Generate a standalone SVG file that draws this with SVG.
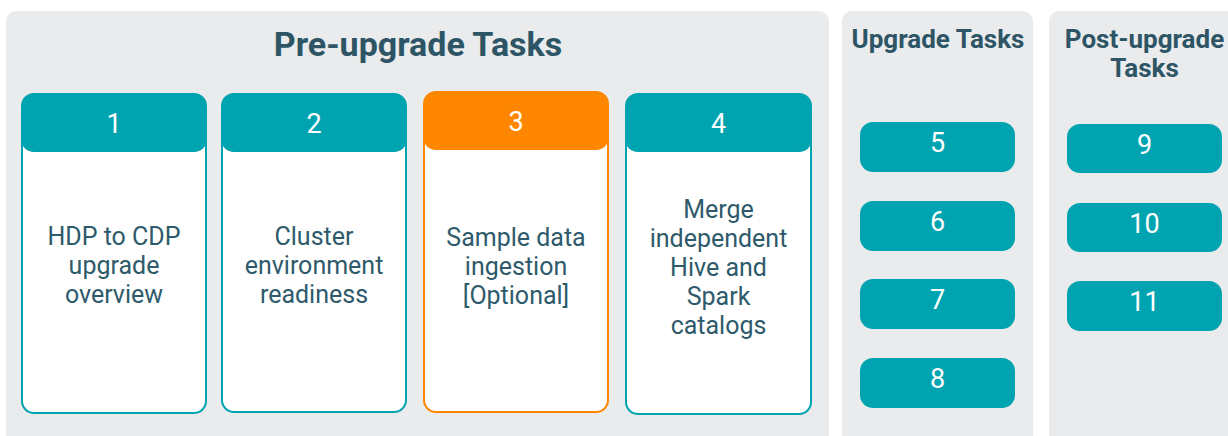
<svg xmlns="http://www.w3.org/2000/svg" width="1228" height="436" viewBox="0 0 1228 436">
  <style>
    .panel { fill: #e9ebed; }
    .title { font-family: Roboto, "Liberation Sans", sans-serif; font-weight: bold; fill: #2d5566; text-anchor: middle; }
    .body { fill: #ffffff; stroke-width: 2; }
    .teal { fill: #00a4b1; }
    .orange { fill: #ff8700; }
    .tealS { stroke: #00a4b1; }
    .orangeS { stroke: #ff8700; }
    .num { font-family: Roboto, "Liberation Sans", sans-serif; font-size: 27px; fill: #ffffff; text-anchor: middle; }
    .txt { font-family: Roboto, "Liberation Sans", sans-serif; font-size: 25px; fill: #2e5a6b; text-anchor: middle; }
  </style>

  <g id="panel-pre">
    <path class="panel" d="M6,436 V21 A10,10 0 0 1 16,11 H819 A10,10 0 0 1 829,21 V436 Z"/>
    <text class="title" x="418" y="56" font-size="34">Pre-upgrade Tasks</text>
  </g>
  <g id="panel-upgrade">
    <path class="panel" d="M842,436 V21 A10,10 0 0 1 852,11 H1023 A10,10 0 0 1 1033,21 V436 Z"/>
    <text class="title" x="938" y="48" font-size="26">Upgrade Tasks</text>
  </g>
  <g id="panel-post">
    <path class="panel" d="M1049,436 V21 A10,10 0 0 1 1059,11 H1238 V436 Z"/>
    <text class="title" x="1144.5" y="48" font-size="26">Post-upgrade</text>
    <text class="title" x="1144.5" y="77" font-size="26">Tasks</text>
  </g>

  <g id="card-1">
    <rect class="body tealS" x="22" y="100" width="184" height="313" rx="12"/>
    <rect class="teal" x="21" y="93" width="186" height="59" rx="13"/>
    <text class="num" x="114" y="133">1</text>
    <text class="txt" x="114" y="245">HDP to CDP</text>
    <text class="txt" x="114" y="274">upgrade</text>
    <text class="txt" x="114" y="303">overview</text>
  </g>
  <g id="card-2">
    <rect class="body tealS" x="222" y="100" width="184" height="312" rx="12"/>
    <rect class="teal" x="221" y="93" width="186" height="59" rx="13"/>
    <text class="num" x="314" y="133">2</text>
    <text class="txt" x="314" y="245">Cluster</text>
    <text class="txt" x="314" y="274">environment</text>
    <text class="txt" x="314" y="303">readiness</text>
  </g>
  <g id="card-3">
    <rect class="body orangeS" x="424" y="98" width="184" height="314" rx="12"/>
    <rect class="orange" x="423" y="91" width="186" height="59" rx="13"/>
    <text class="num" x="516" y="131">3</text>
    <text class="txt" x="516" y="246">Sample data</text>
    <text class="txt" x="516" y="275">ingestion</text>
    <text class="txt" x="516" y="304">[Optional]</text>
  </g>
  <g id="card-4">
    <rect class="body tealS" x="626" y="100" width="185" height="314" rx="12"/>
    <rect class="teal" x="625" y="93" width="187" height="59" rx="13"/>
    <text class="num" x="718.5" y="133">4</text>
    <text class="txt" x="718.5" y="218">Merge</text>
    <text class="txt" x="718.5" y="247">independent</text>
    <text class="txt" x="718.5" y="276">Hive and</text>
    <text class="txt" x="718.5" y="305">Spark</text>
    <text class="txt" x="718.5" y="334">catalogs</text>
  </g>

  <g id="task-5"><rect class="teal" x="860" y="122" width="155" height="50" rx="13"/><text class="num" x="937.5" y="152">5</text></g>
  <g id="task-6"><rect class="teal" x="860" y="201" width="155" height="50" rx="13"/><text class="num" x="937.5" y="231">6</text></g>
  <g id="task-7"><rect class="teal" x="860" y="279" width="155" height="50" rx="13"/><text class="num" x="937.5" y="309">7</text></g>
  <g id="task-8"><rect class="teal" x="860" y="358" width="155" height="50" rx="13"/><text class="num" x="937.5" y="388">8</text></g>

  <g id="task-9"><rect class="teal" x="1067" y="124" width="155" height="49" rx="13"/><text class="num" x="1144.5" y="154">9</text></g>
  <g id="task-10"><rect class="teal" x="1067" y="203" width="155" height="49" rx="13"/><text class="num" x="1144.5" y="233">10</text></g>
  <g id="task-11"><rect class="teal" x="1067" y="281" width="155" height="50" rx="13"/><text class="num" x="1144.5" y="311">11</text></g>

  <g id="connectors"></g>
</svg>
